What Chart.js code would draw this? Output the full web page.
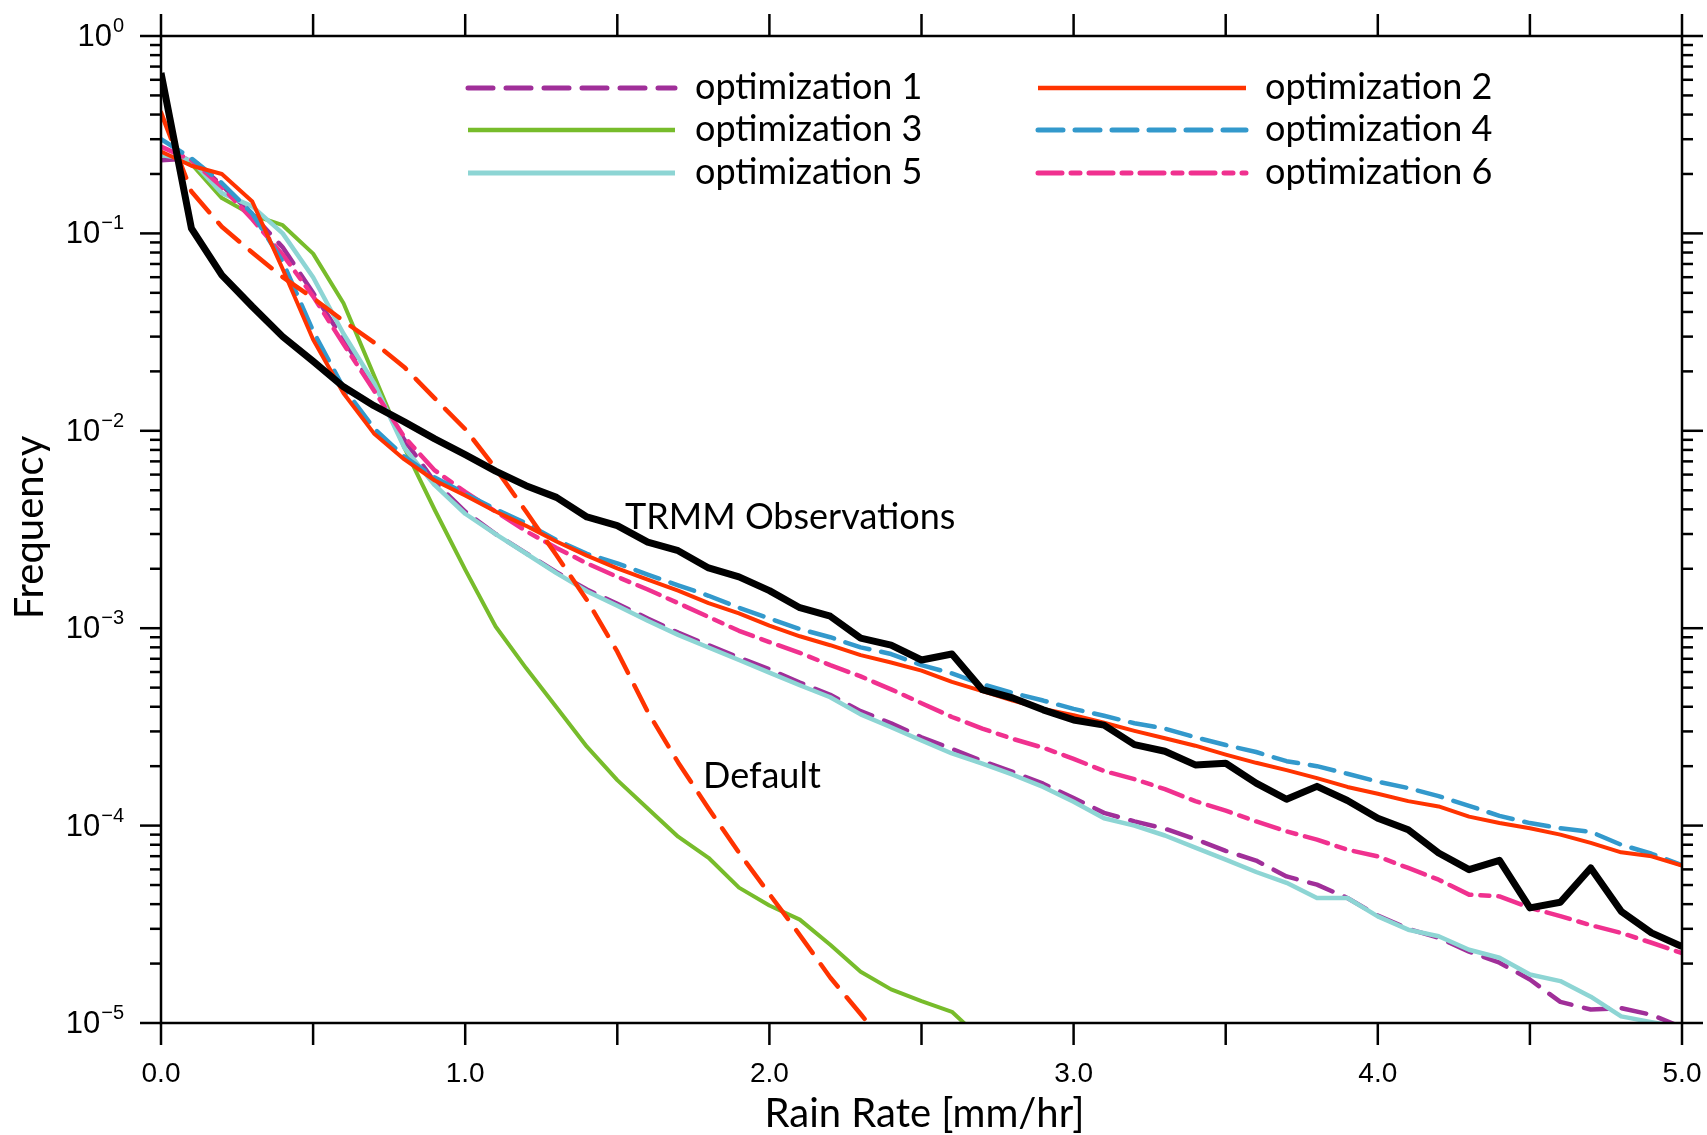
<!DOCTYPE html>
<html>
<head>
<meta charset="utf-8">
<script src="https://cdn.jsdelivr.net/npm/chart.js@4.4.0/dist/chart.umd.min.js"></script>
<style>
  html, body { margin: 0; padding: 0; background: #fff; }
  #wrap { width: 1707px; height: 1135px; position: relative; }
</style>
</head>
<body>
<div id="wrap"><canvas id="rainChart"></canvas></div>
<script>
// Rain rate bins (mm/hr)
const rainRate = [0.0, 0.1, 0.2, 0.3, 0.4, 0.5, 0.6, 0.7, 0.8, 0.9,
    1.0, 1.1, 1.2, 1.3, 1.4, 1.5, 1.6, 1.7, 1.8, 1.9,
    2.0, 2.1, 2.2, 2.3, 2.4, 2.5, 2.6, 2.7, 2.8, 2.9,
    3.0, 3.1, 3.2, 3.3, 3.4, 3.5, 3.6, 3.7, 3.8, 3.9,
    4.0, 4.1, 4.2, 4.3, 4.4, 4.5, 4.6, 4.7, 4.8, 4.9,
    5.0];

// Frequencies
const trmm = [0.65, 0.106, 0.0615, 0.0426, 0.030, 0.0225, 0.0167, 0.0134, 0.0111, 0.0091,
    0.00757, 0.00625, 0.00527, 0.0046, 0.00366, 0.00331, 0.00273, 0.00247, 0.00202, 0.00182,
    0.00155, 0.00127, 0.00115, 0.00089, 0.00082, 0.00069, 0.00074, 0.000488, 0.000443, 0.000386,
    0.000343, 0.000323, 0.000257, 0.000238, 0.000203, 0.000207, 0.000164, 0.000136, 0.000158, 0.000134,
    0.000109, 0.0000953, 0.0000726, 0.0000598, 0.0000667, 0.0000383, 0.0000409, 0.000061, 0.0000368, 0.0000286,
    0.0000244];

const defaultRun = [0.41, 0.163, 0.108, 0.080, 0.060, 0.047, 0.036, 0.028, 0.021, 0.0146,
    0.0102, 0.00645, 0.0039, 0.00234, 0.00139, 0.00076, 0.000377, 0.000209, 0.000122, 0.0000729,
    0.000045, 0.0000279, 0.000017, 0.0000111, 0.0000072, null, null, null, null, null,
    null, null, null, null, null, null, null, null, null, null,
    null, null, null, null, null, null, null, null, null, null,
    null];

const opt1 = [0.235, 0.24, 0.175, 0.125, 0.085, 0.050, 0.029, 0.0165, 0.0090, 0.0055,
    0.0039, 0.0030, 0.0024, 0.00192, 0.00157, 0.00133, 0.00112, 0.00095, 0.00082, 0.00071,
    0.00062, 0.00053, 0.00046, 0.00038, 0.00033, 0.00028, 0.000245, 0.000212, 0.000187, 0.000163,
    0.000138, 0.000116, 0.000105, 0.0000965, 0.0000855, 0.0000745, 0.0000665, 0.0000553, 0.0000502, 0.000043,
    0.000035, 0.00003, 0.000027, 0.000023, 0.0000202, 0.0000166, 0.0000128, 0.0000117, 0.0000119, 0.000011,
    0.0000095];

const opt2 = [0.26, 0.22, 0.20, 0.145, 0.066, 0.029, 0.0155, 0.0097, 0.00716, 0.0056,
    0.0047, 0.0039, 0.0033, 0.00275, 0.00233, 0.00201, 0.00176, 0.00155, 0.00134, 0.00119,
    0.00103, 0.00091, 0.00082, 0.00073, 0.00067, 0.00061, 0.000535, 0.00048, 0.00043, 0.00039,
    0.000362, 0.000332, 0.000302, 0.000277, 0.000254, 0.000229, 0.000208, 0.000191, 0.000174, 0.000157,
    0.000145, 0.000133, 0.000125, 0.000111, 0.000103, 0.000097, 0.00009, 0.0000817, 0.0000732, 0.0000699,
    0.0000627];

const opt3 = [0.25, 0.225, 0.151, 0.124, 0.110, 0.079, 0.0443, 0.0191, 0.00822, 0.00397,
    0.00198, 0.00102, 0.000628, 0.000398, 0.000251, 0.00017, 0.000122, 0.0000879, 0.0000687, 0.0000485,
    0.0000394, 0.0000334, 0.0000249, 0.0000182, 0.0000148, 0.0000129, 0.0000114, 0.0000082, null, null,
    null, null, null, null, null, null, null, null, null, null,
    null, null, null, null, null, null, null, null, null, null,
    null];

const opt4 = [0.30, 0.24, 0.18, 0.126, 0.072, 0.032, 0.0165, 0.0103, 0.0074, 0.0058,
    0.0048, 0.0040, 0.0034, 0.0028, 0.00238, 0.00213, 0.00187, 0.00165, 0.00146, 0.00127,
    0.00112, 0.00099, 0.00090, 0.00080, 0.00074, 0.00065, 0.00059, 0.00052, 0.00047, 0.00043,
    0.00039, 0.00036, 0.00033, 0.00031, 0.00028, 0.000256, 0.000236, 0.000212, 0.000200, 0.000183,
    0.000167, 0.000155, 0.000141, 0.000126, 0.000112, 0.000103, 0.000097, 0.000093, 0.000080, 0.000072,
    0.000063];

const opt5 = [0.25, 0.235, 0.16, 0.137, 0.10, 0.060, 0.031, 0.0175, 0.0082, 0.0053,
    0.0038, 0.0030, 0.00239, 0.0019, 0.00154, 0.0013, 0.00109, 0.000925, 0.000798, 0.00069,
    0.000596, 0.000514, 0.000447, 0.000366, 0.000315, 0.00027, 0.000232, 0.000206, 0.000181, 0.000157,
    0.000132, 0.000109, 0.0001, 0.0000891, 0.0000774, 0.0000673, 0.0000582, 0.0000513, 0.000043, 0.000043,
    0.0000347, 0.0000297, 0.0000275, 0.0000235, 0.0000214, 0.0000176, 0.0000163, 0.0000136, 0.0000108, 0.0000101,
    0.0000095];

const opt6 = [0.275, 0.235, 0.172, 0.118, 0.078, 0.048, 0.0275, 0.0160, 0.0093, 0.0063,
    0.0049, 0.0039, 0.0031, 0.00255, 0.00213, 0.00182, 0.00157, 0.00134, 0.00114, 0.00097,
    0.00085, 0.00075, 0.00065, 0.00057, 0.00049, 0.000417, 0.000355, 0.00031, 0.000275, 0.000248,
    0.000218, 0.000189, 0.000172, 0.000153, 0.000133, 0.000119, 0.000105, 0.0000935, 0.0000849, 0.0000755,
    0.0000698, 0.000061, 0.0000532, 0.0000447, 0.0000438, 0.0000383, 0.0000348, 0.0000313, 0.0000286, 0.0000255,
    0.0000226];

// Axis ticks and labels
const xTicks = [0, 0.5, 1, 1.5, 2, 2.5, 3, 3.5, 4, 4.5, 5];
const xTickLabels = ['0.0', '', '1.0', '', '2.0', '', '3.0', '', '4.0', '', '5.0'];
const yDecades = [0, -1, -2, -3, -4, -5];
const yTickExponents = ['0', '\u22121', '\u22122', '\u22123', '\u22124', '\u22125'];
const legendOrder = ['optimization 1', 'optimization 2', 'optimization 3',
    'optimization 4', 'optimization 5', 'optimization 6'];

function toPoints(values) {
    return rainRate.map((r, i) => ({ x: r, y: values[i] }));
}

function series(label, values, color, width, dash) {
    return {
        label: label,
        data: toPoints(values),
        borderColor: color,
        borderWidth: width,
        borderDash: dash,
        borderCapStyle: dash.length ? 'round' : 'butt',
        borderJoinStyle: 'round',
        pointRadius: 0,
        tension: 0,
        fill: false,
        spanGaps: false
    };
}

// Draws the box, ticks, labels, legend and annotations
const frameAndText = {
    id: 'frameAndText',
    afterDatasetsDraw(chart) {
        const ctx = chart.ctx;
        const a = chart.chartArea;
        const xs = chart.scales.x;
        const ys = chart.scales.y;

        function seg(x1, y1, x2, y2) {
            ctx.beginPath();
            ctx.moveTo(x1, y1);
            ctx.lineTo(x2, y2);
            ctx.stroke();
        }

        ctx.save();
        ctx.strokeStyle = '#000';
        ctx.lineWidth = 2.5;
        ctx.setLineDash([]);
        ctx.lineCap = 'butt';
        ctx.strokeRect(a.left, a.top, a.right - a.left, a.bottom - a.top);

        // x ticks, top and bottom, pointing outward
        ctx.fillStyle = '#000';
        ctx.font = '28px "Liberation Sans", Arial, sans-serif';
        ctx.textAlign = 'center';
        ctx.textBaseline = 'alphabetic';
        xTicks.forEach((v, i) => {
            const px = xs.getPixelForValue(v);
            seg(px, a.bottom, px, a.bottom + 22);
            seg(px, a.top, px, a.top - 22);
            if (xTickLabels[i]) ctx.fillText(xTickLabels[i], px, a.bottom + 59);
        });

        // y ticks on a log scale, both sides
        yDecades.forEach((e, i) => {
            const base = Math.pow(10, e);
            const py = ys.getPixelForValue(base);
            seg(a.left - 21, py, a.left, py);
            seg(a.right, py, a.right + 21, py);
            if (e > -5) {
                for (let k = 2; k <= 9; k++) {
                    const my = ys.getPixelForValue(k * base / 10);
                    seg(a.left - 11, my, a.left, my);
                    seg(a.right, my, a.right + 11, my);
                }
            }
            // label 10 with superscript exponent
            ctx.textAlign = 'left';
            ctx.font = '20px "Liberation Sans", Arial, sans-serif';
            const supW = ctx.measureText(yTickExponents[i]).width;
            ctx.font = '31px "Liberation Sans", Arial, sans-serif';
            const baseW = ctx.measureText('10').width;
            const right = a.left - 37;
            ctx.fillText('10', right - supW - baseW - 1, py + 10);
            ctx.font = '20px "Liberation Sans", Arial, sans-serif';
            ctx.fillText(yTickExponents[i], right - supW, py - 4);
        });

        // axis titles
        ctx.font = '40px Lato, sans-serif';
        ctx.textAlign = 'center';
        ctx.fillText('Rain Rate [mm/hr]', (a.left + a.right) / 2 + 3, 1127);
        ctx.save();
        ctx.translate(43, (a.top + a.bottom) / 2 - 2);
        ctx.rotate(-Math.PI / 2);
        ctx.fillText('Frequency', 0, 0);
        ctx.restore();

        // curve annotations
        ctx.font = '36px Lato, sans-serif';
        ctx.textAlign = 'left';
        ctx.fillText('TRMM Observations', 625, 529);
        ctx.fillText('Default', 703, 788);

        // legend, two columns
        const cols = [{ x1: 468, x2: 675, tx: 695 }, { x1: 1038, x2: 1246, tx: 1265 }];
        const rows = [88, 130, 173];
        legendOrder.forEach((name, i) => {
            const ds = chart.data.datasets.find(d => d.label === name);
            const c = cols[i % 2];
            const ry = rows[Math.floor(i / 2)];
            ctx.strokeStyle = ds.borderColor;
            ctx.lineWidth = ds.borderWidth + 0.5;
            ctx.setLineDash(ds.borderDash);
            ctx.lineCap = ds.borderCapStyle;
            seg(c.x1, ry, c.x2, ry);
            ctx.setLineDash([]);
            ctx.fillStyle = '#000';
            ctx.fillText(name, c.tx, ry + 11);
        });
        ctx.restore();
    }
};

const ctx = document.getElementById('rainChart').getContext('2d');
const chart = new Chart(ctx, {
    type: 'line',
    data: {
        datasets: [
            series('TRMM Observations', trmm, '#000000', 7, []),
            series('Default', defaultRun, '#FF3300', 4.5, [28, 14]),
            series('optimization 2', opt2, '#FF3300', 4, []),
            series('optimization 4', opt4, '#3399CC', 4.5, [25, 12]),
            series('optimization 6', opt6, '#F0318F', 4.5, [24, 9, 9, 9]),
            series('optimization 5', opt5, '#8DD5D4', 4.5, []),
            series('optimization 1', opt1, '#A02F99', 4.5, [25, 13]),
            series('optimization 3', opt3, '#77BC2B', 4, [])
        ]
    },
    options: {
        responsive: true,
        maintainAspectRatio: false,
        animation: false,
        layout: {
            padding: { left: 0, right: 25, top: 36, bottom: 0 }
        },
        plugins: {
            legend: { display: false },
            tooltip: { enabled: false }
        },
        scales: {
            x: {
                type: 'linear',
                min: 0,
                max: 5,
                ticks: { display: false },
                grid: { display: false },
                border: { display: false },
                afterFit: (scale) => { scale.height = 112; }
            },
            y: {
                type: 'logarithmic',
                min: 0.00001,
                max: 1,
                ticks: { display: false },
                grid: { display: false },
                border: { display: false },
                afterFit: (scale) => { scale.width = 161; }
            }
        }
    },
    plugins: [frameAndText]
});
</script>
</body>
</html>
